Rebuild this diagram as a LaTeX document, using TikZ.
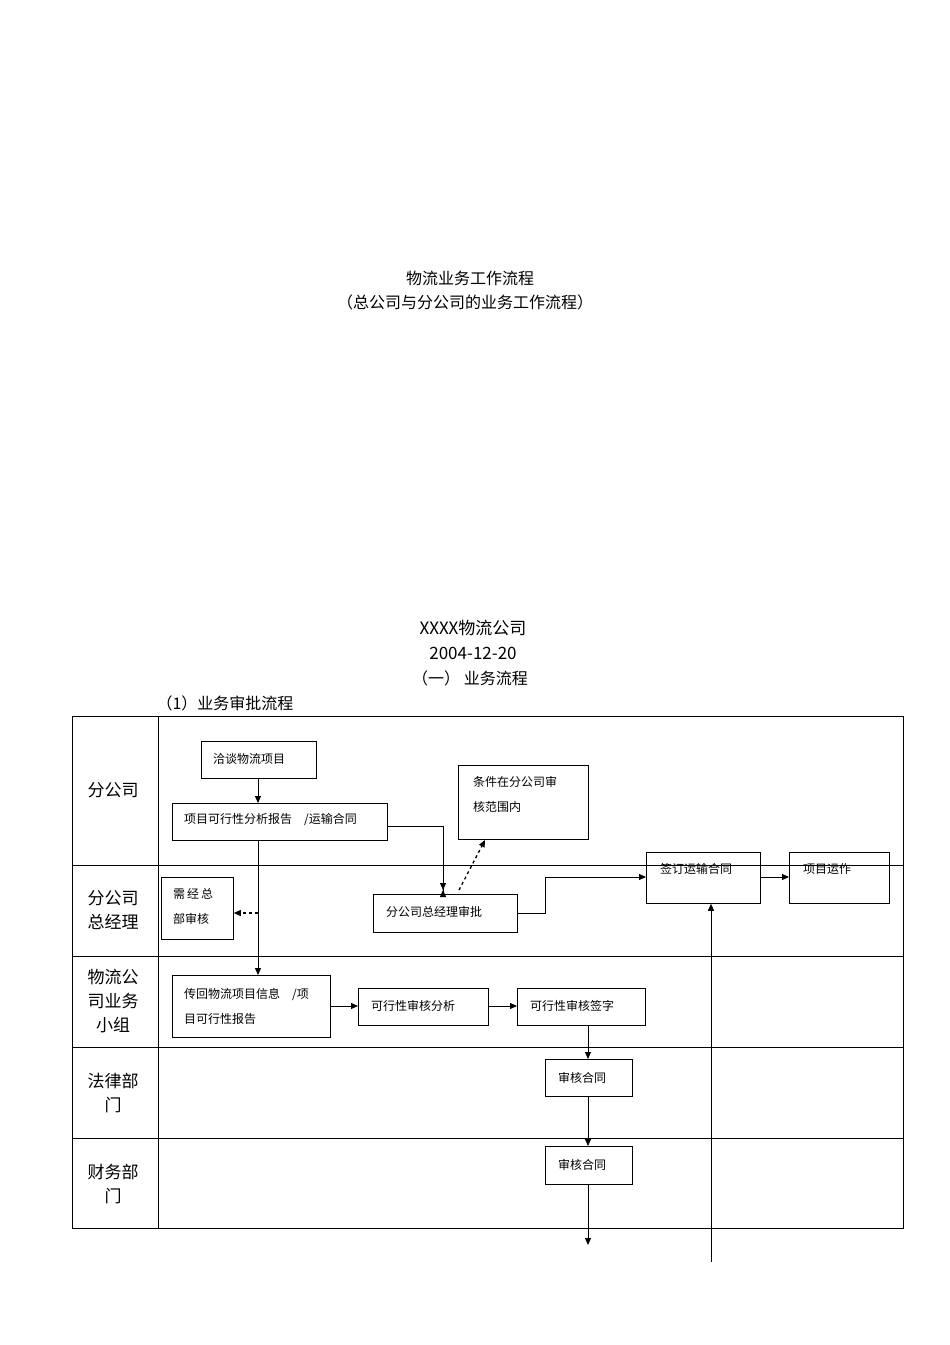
\documentclass[tikz,border=0pt]{standalone}
\usepackage{fontspec}
\setmainfont{Noto Sans CJK SC}
\usetikzlibrary{arrows.meta}
\begin{document}
\begin{tikzpicture}[x=1pt,y=-1pt,
  bx/.style={draw,line width=0.8pt,anchor=north west,inner sep=0pt},
  bt/.style={anchor=west,font=\fontsize{12}{14}\selectfont,inner sep=0pt},
  lane/.style={font=\fontsize{17}{24}\selectfont,align=center},
  ttl/.style={font=\fontsize{16}{18}\selectfont},
  arr/.style={-{Triangle[length=7pt,width=6pt]},line width=0.9pt},
  darr/.style={arr,dashed,line width=1.3pt}]
\useasboundingbox (0,0) rectangle (950,1345);
\node[ttl] (t1) at (470,278) {物流业务工作流程};
\node[ttl] (t2) at (465,302) {（总公司与分公司的业务工作流程）};
\node[ttl,font=\fontsize{17}{19}\selectfont] (t3) at (473,628) {XXXX物流公司};
\node[ttl,font=\fontsize{17}{19}\selectfont] (t4) at (473,653) {2004-12-20};
\node[ttl] (t5) at (470,678) {（一） 业务流程};
\node[ttl] (t6) at (225,703) {（1）业务审批流程};
% table
\draw[line width=0.7pt] (72,716) rectangle (903,1228);
\draw[line width=0.7pt] (158,716) -- (158,1228);
\foreach \y in {865,956,1047,1138} \draw[line width=0.7pt] (72,\y) -- (903,\y);
\node[lane] (l1) at (113,790) {分公司};
\node[lane] (l2) at (113,910) {分公司\\总经理};
\node[lane] (l3) at (113,1001) {物流公\\司业务\\小组};
\node[lane] (l4) at (113,1093) {法律部\\门};
\node[lane] (l5) at (113,1184) {财务部\\门};
% boxes
\newcommand{\bxx}[5]{\node[bx,minimum width=#4-#2,minimum height=#5-#3] (#1) at (#2,#3) {};}
\bxx{a}{201}{741}{316}{778}
\bxx{b}{172}{803}{387}{840}
\bxx{c}{458}{765}{588}{839}
\bxx{d}{161}{877}{233}{939}
\bxx{e}{373}{894}{517}{932}
\bxx{f}{646}{852}{760}{903}
\bxx{g}{789}{852}{889}{903}
\bxx{h}{172}{975}{330}{1037}
\bxx{i}{358}{988}{488}{1025}
\bxx{j}{517}{988}{645}{1025}
\bxx{k}{545}{1059}{632}{1096}
\bxx{m}{545}{1146}{632}{1184}
\node[bt] (ta) at (213,759) {洽谈物流项目};
\node[bt] (tb) at (184,820) {项目可行性分析报告\quad /运输合同};
\node[bt] (tc1) at (473,782) {条件在分公司审};
\node[bt] (tc2) at (473,807) {核范围内};
\node[bt] (td1) at (173,894) {需\,经\,总};
\node[bt] (td2) at (173,919) {部审核};
\node[bt] (te) at (386,912) {分公司总经理审批};
\node[bt] (tf) at (660,869) {签订运输合同};
\node[bt] (tg) at (803,869) {项目运作};
\node[bt] (th1) at (184,994) {传回物流项目信息\quad /项};
\node[bt] (th2) at (184,1019) {目可行性报告};
\node[bt] (ti) at (371,1006) {可行性审核分析};
\node[bt] (tj) at (530,1006) {可行性审核签字};
\node[bt] (tk) at (558,1078) {审核合同};
\node[bt] (tm) at (558,1165) {审核合同};
\coordinate (pend) at (588,1245);
\coordinate (pstart) at (711,1262);
\coordinate (dj) at (258,913);
% arrows
\draw[arr] (a.south -| 258,0) -- (b.north -| 258,0);
\draw[arr] (b.south -| 258,0) -- (h.north -| 258,0);
\draw[darr] (dj) -- (d.east |- dj);
\draw[arr] (b.east |- 0,826) -- (443,826) -- (e.north -| 443,0) ++(0,-4);
\draw[arr] (b.east |- 0,826) -- (443,826) -- (443,890);
\draw[darr] (459,890) -- (485,840);
\draw[arr] (e.east |- 0,913) -- (545,913) -- (545,877) -- (f.west |- 0,877);
\draw[arr] (f.east |- 0,877) -- (g.west |- 0,877);
\draw[arr] (pstart) -- (f.south -| 711,0);
\draw[arr] (h.east |- 0,1006) -- (i.west |- 0,1006);
\draw[arr] (i.east |- 0,1006) -- (j.west |- 0,1006);
\draw[arr] (j.south -| 588,0) -- (k.north -| 588,0);
\draw[arr] (k.south -| 588,0) -- (m.north -| 588,0);
\draw[arr] (m.south -| 588,0) -- (pend);
\end{tikzpicture}
\end{document}
